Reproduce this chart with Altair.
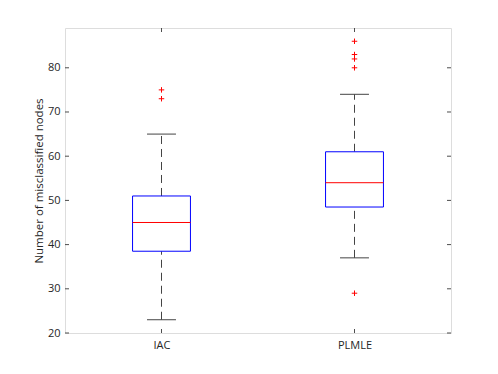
import altair as alt
import pandas as pd

categories = ["IAC", "PLMLE"]
positions = [1, 2]
lower_whisker = [23, 37]
q1 = [38.5, 48.5]
median = [45, 54]
q3 = [51, 61]
upper_whisker = [65, 74]
outlier_cat = ["IAC", "IAC", "PLMLE", "PLMLE", "PLMLE", "PLMLE", "PLMLE"]
outlier_val = [75, 73, 86, 83, 82, 80, 29]
y_ticks = [20, 30, 40, 50, 60, 70, 80]

W, H = 386, 305
FONT = "Open Sans"
BOX_HALF = 0.15
CAP_HALF = 0.075

stats = pd.DataFrame({
    "cat": categories, "pos": positions, "lw": lower_whisker, "q1": q1,
    "med": median, "q3": q3, "uw": upper_whisker,
})
pos_map = dict(zip(categories, positions))
outl = pd.DataFrame({"cat": outlier_cat, "val": outlier_val})
outl["pos"] = outl["cat"].map(pos_map)
ticks = pd.DataFrame({"v": y_ticks})

xs = alt.Scale(domain=[0.5, 2.5], nice=False, zero=False)
ys = alt.Scale(domain=[20, 89], nice=False, zero=False)

label_expr = "datum.value == 1 ? 'IAC' : (datum.value == 2 ? 'PLMLE' : '')"

base = alt.Chart(stats).transform_calculate(
    xl=f"datum.pos - {BOX_HALF}", xr=f"datum.pos + {BOX_HALF}",
    cl=f"datum.pos - {CAP_HALF}", cr=f"datum.pos + {CAP_HALF}",
)

x_axis = alt.Axis(values=positions, labelExpr=label_expr, title=None, grid=False,
                  domain=False, ticks=False, labelPadding=6, labelFont=FONT,
                  labelFontSize=11, labelColor="#262626")
y_axis = alt.Axis(values=y_ticks, title="Number of misclassified nodes", grid=False,
                  domain=False, ticks=False, labelPadding=5, labelFont=FONT,
                  labelFontSize=11, labelColor="#262626", titleFont=FONT,
                  titleFontSize=11.5, titleFontWeight="normal", titleColor="#262626",
                  titlePadding=3)

WC = "#444444"
whisk_up = base.mark_rule(color=WC, strokeWidth=1, strokeDash=[8, 5]).encode(
    x=alt.X("pos:Q", scale=xs, axis=x_axis),
    y=alt.Y("q3:Q", scale=ys, axis=y_axis),
    y2="uw:Q",
)
whisk_dn = base.mark_rule(color=WC, strokeWidth=1, strokeDash=[8, 5]).encode(
    x=alt.X("pos:Q", scale=xs), y=alt.Y("lw:Q", scale=ys), y2="q1:Q",
)
cap_up = base.mark_rule(color=WC, strokeWidth=1).encode(
    x=alt.X("cl:Q", scale=xs), x2="cr:Q", y=alt.Y("uw:Q", scale=ys),
)
cap_dn = base.mark_rule(color=WC, strokeWidth=1).encode(
    x=alt.X("cl:Q", scale=xs), x2="cr:Q", y=alt.Y("lw:Q", scale=ys),
)
box = base.mark_rect(fill="white", stroke="#0000ff", strokeWidth=1).encode(
    x=alt.X("xl:Q", scale=xs), x2="xr:Q", y=alt.Y("q1:Q", scale=ys), y2="q3:Q",
)
med = base.mark_rule(color="#ff0000", strokeWidth=1).encode(
    x=alt.X("xl:Q", scale=xs), x2="xr:Q", y=alt.Y("med:Q", scale=ys),
)
pts = alt.Chart(outl).mark_point(
    shape="M-1,0L1,0M0,-1L0,1", size=30, filled=False, color="#ff0000", strokeWidth=1, opacity=1
).encode(x=alt.X("pos:Q", scale=xs), y=alt.Y("val:Q", scale=ys))

tick_len = 4
TC = "#4d4d4d"
ytick_l = alt.Chart(ticks).mark_rule(color=TC, strokeWidth=1).encode(
    y=alt.Y("v:Q", scale=ys), x=alt.value(0), x2=alt.value(tick_len))
ytick_r = alt.Chart(ticks).mark_rule(color=TC, strokeWidth=1).encode(
    y=alt.Y("v:Q", scale=ys), x=alt.value(W), x2=alt.value(W - tick_len))
xtick_b = alt.Chart(stats).mark_rule(color=TC, strokeWidth=1).encode(
    x=alt.X("pos:Q", scale=xs), y=alt.value(H), y2=alt.value(H - tick_len))
xtick_t = alt.Chart(stats).mark_rule(color=TC, strokeWidth=1).encode(
    x=alt.X("pos:Q", scale=xs), y=alt.value(0), y2=alt.value(tick_len))

chart = alt.layer(
    whisk_up, whisk_dn, cap_up, cap_dn, box, med, pts,
    ytick_l, ytick_r, xtick_b, xtick_t,
).properties(
    width=W, height=H,
    autosize=alt.AutoSizeParams(type="none"),
    padding={"left": 57, "top": 20, "right": 30, "bottom": 30},
).configure_view(
    stroke="#b3b3b3", strokeWidth=1.5
).configure(background="white")

chart.save("out.html", embed_options={"renderer": "svg", "actions": False})
